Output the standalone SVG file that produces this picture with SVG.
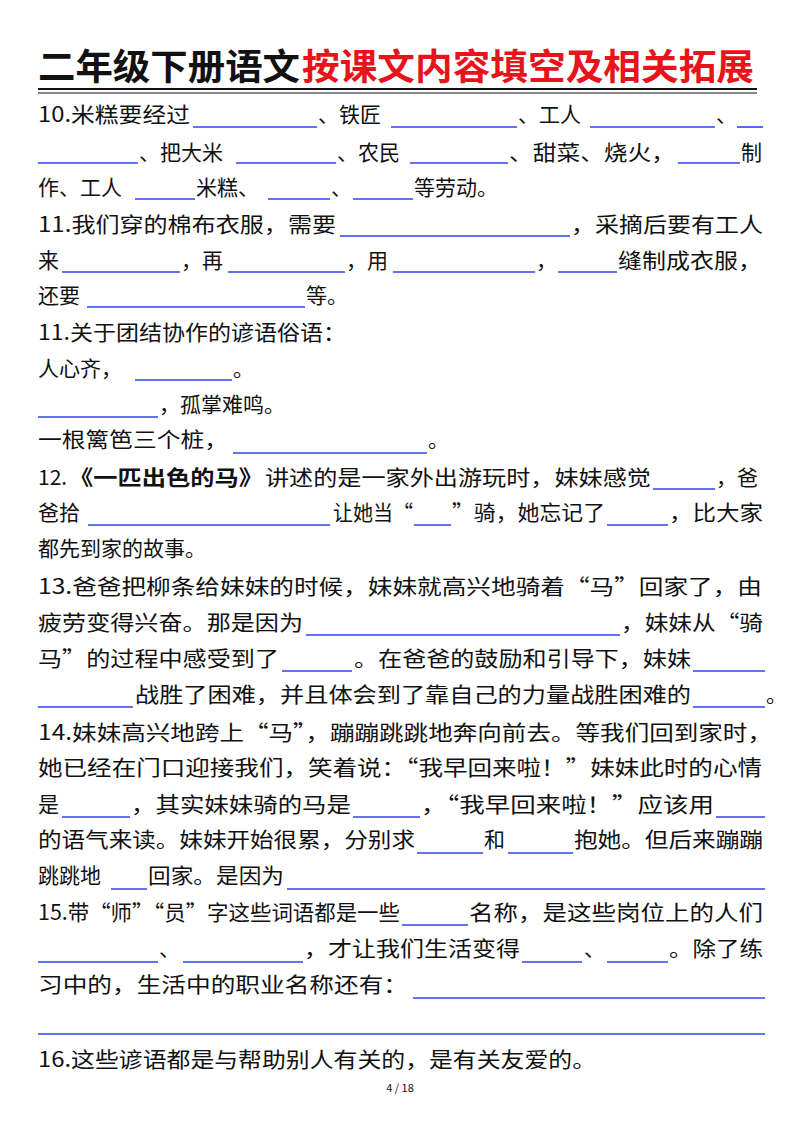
<svg xmlns="http://www.w3.org/2000/svg" width="800" height="1132" viewBox="0 0 800 1132">
<style>
text{font-family:"Noto Sans CJK SC","Noto Sans",sans-serif;font-size:21px;fill:#111}
.t{font-size:36px;font-weight:bold}
.r{fill:#e8141b}
.b{font-weight:bold}
.bl line{stroke:#2c44e8;stroke-width:1.6}
</style>
<rect width="800" height="1132" fill="#fff"/>
<text class="t" x="38" y="80" textLength="262" lengthAdjust="spacingAndGlyphs">二年级下册语文</text>
<text class="t r" x="302" y="80" textLength="452" lengthAdjust="spacingAndGlyphs">按课文内容填空及相关拓展</text>
<line x1="38" y1="89" x2="757" y2="89" stroke="#111" stroke-width="2.2"/>
<line x1="38" y1="93" x2="757" y2="93" stroke="#111" stroke-width="1"/>
<g id="text">
<text x="38" y="122" textLength="152" lengthAdjust="spacingAndGlyphs">10.米糕要经过</text>
<text x="318" y="122">、铁匠</text>
<text x="518" y="122">、工人</text>
<text x="716" y="122">、</text>
<text x="139" y="160">、把大米</text>
<text x="337" y="160">、农民</text>
<text x="509" y="160" textLength="166" lengthAdjust="spacingAndGlyphs">、甜菜、烧火，</text>
<text x="741" y="160">制</text>
<text x="38" y="195">作、工人</text>
<text x="196" y="195">米糕、</text>
<text x="331" y="195">、</text>
<text x="414" y="195">等劳动。</text>
<text x="38" y="232" textLength="298" lengthAdjust="spacingAndGlyphs">11.我们穿的棉布衣服，需要</text>
<text x="571" y="232" textLength="192" lengthAdjust="spacingAndGlyphs">，采摘后要有工人</text>
<text x="38" y="268">来</text>
<text x="181" y="268">，再</text>
<text x="346" y="268">，用</text>
<text x="536" y="268">，</text>
<text x="618" y="268" textLength="144" lengthAdjust="spacingAndGlyphs">缝制成衣服，</text>
<text x="38" y="303">还要</text>
<text x="306" y="303">等。</text>
<text x="38" y="340" textLength="308" lengthAdjust="spacingAndGlyphs">11.关于团结协作的谚语俗语：</text>
<text x="38" y="376">人心齐，</text>
<text x="233" y="376">。</text>
<text x="159" y="412">，孤掌难鸣。</text>
<text x="38" y="447" textLength="190" lengthAdjust="spacingAndGlyphs">一根篱笆三个桩，</text>
<text x="428" y="447">。</text>
<text x="38" y="485">12.</text>
<text class="b" x="69" y="485" textLength="194" lengthAdjust="spacingAndGlyphs">《一匹出色的马》</text>
<text x="265" y="485" textLength="386" lengthAdjust="spacingAndGlyphs">讲述的是一家外出游玩时，妹妹感觉</text>
<text x="716" y="485">，爸</text>
<text x="38" y="520">爸拾</text>
<text x="333" y="520" textLength="80" lengthAdjust="spacingAndGlyphs">让她当“</text>
<text x="452" y="520" textLength="153" lengthAdjust="spacingAndGlyphs">”骑，她忘记了</text>
<text x="669" y="520" textLength="94" lengthAdjust="spacingAndGlyphs">，比大家</text>
<text x="38" y="556">都先到家的故事。</text>
<text x="38" y="594" textLength="724" lengthAdjust="spacingAndGlyphs">13.爸爸把柳条给妹妹的时候，妹妹就高兴地骑着“马”回家了，由</text>
<text x="38" y="630" textLength="265" lengthAdjust="spacingAndGlyphs">疲劳变得兴奋。那是因为</text>
<text x="621" y="630" textLength="142" lengthAdjust="spacingAndGlyphs">，妹妹从“骑</text>
<text x="38" y="666" textLength="241" lengthAdjust="spacingAndGlyphs">马”的过程中感受到了</text>
<text x="354" y="666" textLength="337" lengthAdjust="spacingAndGlyphs">。在爸爸的鼓励和引导下，妹妹</text>
<text x="135" y="702" textLength="556" lengthAdjust="spacingAndGlyphs">战胜了困难，并且体会到了靠自己的力量战胜困难的</text>
<text x="766" y="702">。</text>
<text x="38" y="740" textLength="734" lengthAdjust="spacingAndGlyphs">14.妹妹高兴地跨上“马”，蹦蹦跳跳地奔向前去。等我们回到家时，</text>
<text x="38" y="775" textLength="724" lengthAdjust="spacingAndGlyphs">她已经在门口迎接我们，笑着说：“我早回来啦！”妹妹此时的心情</text>
<text x="38" y="812">是</text>
<text x="131" y="812" textLength="220" lengthAdjust="spacingAndGlyphs">，其实妹妹骑的马是</text>
<text x="421" y="812" textLength="293" lengthAdjust="spacingAndGlyphs">，“我早回来啦！”应该用</text>
<text x="38" y="847" textLength="377" lengthAdjust="spacingAndGlyphs">的语气来读。妹妹开始很累，分别求</text>
<text x="484" y="847">和</text>
<text x="574" y="847" textLength="189" lengthAdjust="spacingAndGlyphs">抱她。但后来蹦蹦</text>
<text x="38" y="883">跳跳地</text>
<text x="148" y="883" textLength="136" lengthAdjust="spacingAndGlyphs">回家。是因为</text>
<text x="38" y="920" textLength="362" lengthAdjust="spacingAndGlyphs">15.带“师”“员”字这些词语都是一些</text>
<text x="469" y="920" textLength="294" lengthAdjust="spacingAndGlyphs">名称，是这些岗位上的人们</text>
<text x="159" y="956">、</text>
<text x="304" y="956" textLength="216" lengthAdjust="spacingAndGlyphs">，才让我们生活变得</text>
<text x="584" y="956">、</text>
<text x="669" y="956" textLength="94" lengthAdjust="spacingAndGlyphs">。除了练</text>
<text x="38" y="992" textLength="370" lengthAdjust="spacingAndGlyphs">习中的，生活中的职业名称还有：</text>
<text x="38" y="1067" textLength="558" lengthAdjust="spacingAndGlyphs">16.这些谚语都是与帮助别人有关的，是有关友爱的。</text>
<text x="400" y="1092" text-anchor="middle" style="font-size:11px">4 / 18</text>
</g>
<g id="connectors" class="bl">
<line x1="193" y1="127" x2="317" y2="127"/><line x1="391" y1="127" x2="517" y2="127"/><line x1="590" y1="127" x2="715" y2="127"/><line x1="737" y1="127" x2="763" y2="127"/>
<line x1="38" y1="163" x2="138" y2="163"/><line x1="236" y1="163" x2="336" y2="163"/><line x1="410" y1="163" x2="508" y2="163"/><line x1="678" y1="163" x2="740" y2="163"/>
<line x1="135" y1="199" x2="195" y2="199"/><line x1="268" y1="199" x2="330" y2="199"/><line x1="353" y1="199" x2="413" y2="199"/>
<line x1="340" y1="236" x2="570" y2="236"/>
<line x1="62" y1="272" x2="180" y2="272"/><line x1="228" y1="272" x2="345" y2="272"/><line x1="393" y1="272" x2="535" y2="272"/><line x1="558" y1="272" x2="617" y2="272"/>
<line x1="87" y1="307" x2="305" y2="307"/>
<line x1="135" y1="380" x2="232" y2="380"/>
<line x1="38" y1="417" x2="158" y2="417"/>
<line x1="233" y1="453" x2="427" y2="453"/>
<line x1="653" y1="489" x2="715" y2="489"/>
<line x1="88" y1="525" x2="330" y2="525"/><line x1="414" y1="525" x2="451" y2="525"/><line x1="607" y1="525" x2="668" y2="525"/>
<line x1="306" y1="635" x2="620" y2="635"/>
<line x1="282" y1="671" x2="352" y2="671"/><line x1="693" y1="671" x2="765" y2="671"/>
<line x1="38" y1="707" x2="133" y2="707"/><line x1="693" y1="707" x2="765" y2="707"/>
<line x1="62" y1="817" x2="130" y2="817"/><line x1="353" y1="817" x2="420" y2="817"/><line x1="716" y1="817" x2="765" y2="817"/>
<line x1="417" y1="853" x2="483" y2="853"/><line x1="508" y1="853" x2="573" y2="853"/>
<line x1="111" y1="889" x2="147" y2="889"/><line x1="287" y1="889" x2="765" y2="889"/>
<line x1="402" y1="925" x2="468" y2="925"/>
<line x1="38" y1="962" x2="158" y2="962"/><line x1="183" y1="962" x2="303" y2="962"/><line x1="522" y1="962" x2="582" y2="962"/><line x1="607" y1="962" x2="668" y2="962"/>
<line x1="413" y1="998" x2="765" y2="998"/>
<line x1="38" y1="1034" x2="765" y2="1034"/>
</g>
</svg>
